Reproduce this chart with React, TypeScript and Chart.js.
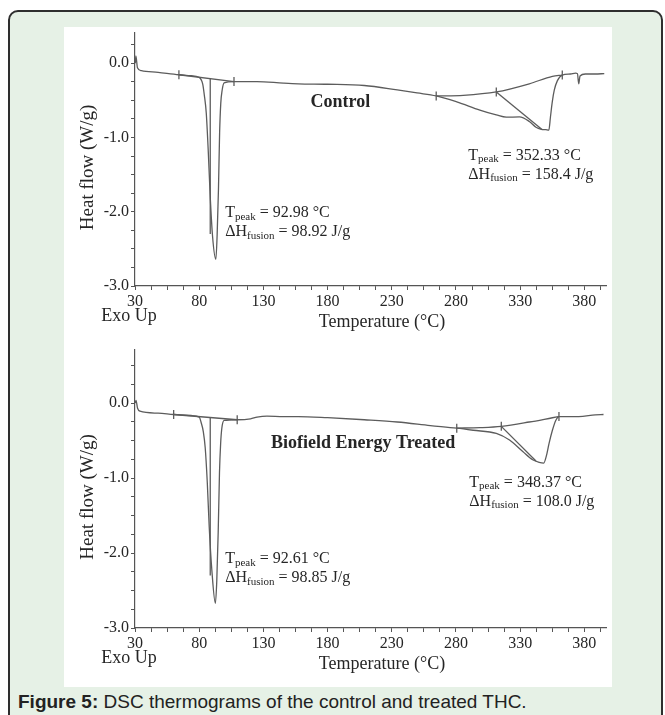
import React, { useEffect, useRef } from 'react';
import { Chart, registerables } from 'chart.js';

Chart.register(...registerables);

// ---------------- data ----------------
const xTickLabels = [30, 80, 130, 180, 230, 280, 330, 380];
const yTickLabels = [0, -1, -2, -3];

// Control sample: temperature (°C) and heat flow (W/g)
const controlT = [30.2, 30.7, 31.9, 35.0, 48.0, 64.2, 73.7, 79.7, 82.7, 84.0, 85.5, 87.1, 88.6, 90.4, 92.98, 94.0, 95.0, 95.9, 96.8, 97.9, 99.4, 107.1, 125.0, 145.6, 157.2, 180.0, 208.6, 234.3, 249.7, 264.6, 280.6, 298.6, 311.4, 319.2, 329.4, 337.1, 342.3, 346.5, 350.0, 352.33, 353.6, 355.0, 356.6, 359.0, 362.8, 369.2, 373.1, 374.6, 375.6, 376.6, 380.8, 388.5, 395.5];
const controlHF = [0.0, 0.1, -0.06, -0.1, -0.123, -0.155, -0.168, -0.189, -0.278, -0.43, -0.67, -1.2, -1.8, -2.33, -2.64, -2.3, -1.7, -0.94, -0.54, -0.36, -0.264, -0.247, -0.247, -0.268, -0.277, -0.283, -0.3, -0.36, -0.4, -0.44, -0.52, -0.63, -0.696, -0.727, -0.723, -0.784, -0.863, -0.89, -0.895, -0.9, -0.72, -0.52, -0.36, -0.234, -0.159, -0.145, -0.132, -0.14, -0.278, -0.172, -0.145, -0.145, -0.139];
const controlBaseLowT = [64.2, 107.1];
const controlBaseLowHF = [-0.155, -0.247];
const controlBaseHighT = [264.6, 285.7, 311.4, 337.1, 355.1, 362.8];
const controlBaseHighHF = [-0.44, -0.432, -0.387, -0.277, -0.176, -0.159];
const controlDropT = [88.6, 88.6];
const controlDropHF = [-0.205, -2.3];
const controlDiagT = [311.4, 347.0];
const controlDiagHF = [-0.387, -0.893];
const controlMarkT = [64.2, 107.1, 264.6, 311.4, 362.8];
const controlMarkHF = [-0.155, -0.247, -0.44, -0.387, -0.159];

// Biofield Energy Treated sample
const treatedT = [30.2, 30.8, 32.0, 33.9, 48.0, 60.1, 73.7, 80.1, 81.4, 83.2, 84.7, 86.3, 87.8, 89.9, 92.61, 93.7, 94.8, 95.8, 96.7, 97.6, 99.4, 109.6, 120.0, 125.1, 132.8, 145.6, 157.2, 180.0, 208.6, 234.3, 260.0, 280.6, 293.5, 311.4, 321.7, 332.0, 339.7, 344.8, 348.37, 350.3, 352.5, 355.1, 357.7, 360.2, 375.6, 388.5, 394.9];
const treatedHF = [0.0, 0.035, -0.07, -0.109, -0.135, -0.153, -0.166, -0.187, -0.253, -0.38, -0.6, -1.06, -1.65, -2.24, -2.67, -2.37, -1.72, -0.93, -0.54, -0.34, -0.232, -0.223, -0.21, -0.187, -0.174, -0.18, -0.18, -0.195, -0.223, -0.253, -0.3, -0.335, -0.363, -0.406, -0.494, -0.646, -0.756, -0.79, -0.8, -0.712, -0.537, -0.363, -0.232, -0.18, -0.18, -0.157, -0.153];
const treatedBaseLowT = [60.1, 109.6];
const treatedBaseLowHF = [-0.153, -0.223];
const treatedBaseHighT = [280.6, 298.6, 315.3, 337.1, 355.1, 360.2];
const treatedBaseHighHF = [-0.335, -0.328, -0.311, -0.253, -0.196, -0.18];
const treatedDropT = [88.6, 88.6];
const treatedDropHF = [-0.19, -2.3];
const treatedDiagT = [315.3, 342.3];
const treatedDiagHF = [-0.311, -0.773];
const treatedMarkT = [60.1, 109.6, 280.6, 315.3, 360.2];
const treatedMarkHF = [-0.153, -0.223, -0.335, -0.311, -0.18];

// ---------------- styles ----------------
const SERIF = '"Liberation Serif", "Times New Roman", Times, serif';
const SANS = '"Liberation Sans", Arial, Helvetica, sans-serif';
const TEXT = '#262626';
const CURVE = '#5c5c5c';
const AXIS = '#555555';

type Note = { T: number; HF: number; lines: [string, string, string][] };
type Spec = {
  top: number;
  height: number;
  yMax: number;
  title: string;
  titleT: number;
  titleHF: number;
  notes: Note[];
  lines: { T: number[]; HF: number[]; smooth?: boolean }[];
  marksT: number[];
  marksHF: number[];
};

const controlSpec: Spec = {
  top: 27,
  height: 309,
  yMax: 0.41,
  title: 'Control',
  titleT: 190,
  titleHF: -0.53,
  notes: [
    { T: 100.2, HF: -2.02, lines: [['T', 'peak', ' = 92.98 °C'], ['ΔH', 'fusion', ' = 98.92 J/g']] },
    { T: 289.6, HF: -1.24, lines: [['T', 'peak', ' = 352.33 °C'], ['ΔH', 'fusion', ' = 158.4 J/g']] },
  ],
  lines: [
    { T: controlT, HF: controlHF, smooth: true },
    { T: controlBaseLowT, HF: controlBaseLowHF },
    { T: controlBaseHighT, HF: controlBaseHighHF, smooth: true },
    { T: controlDropT, HF: controlDropHF },
    { T: controlDiagT, HF: controlDiagHF },
  ],
  marksT: controlMarkT,
  marksHF: controlMarkHF,
};

const treatedSpec: Spec = {
  top: 344,
  height: 334,
  yMax: 0.71,
  title: 'Biofield Energy Treated',
  titleT: 207.7,
  titleHF: -0.537,
  notes: [
    { T: 100.2, HF: -2.08, lines: [['T', 'peak', ' = 92.61 °C'], ['ΔH', 'fusion', ' = 98.85 J/g']] },
    { T: 290.4, HF: -1.06, lines: [['T', 'peak', ' = 348.37 °C'], ['ΔH', 'fusion', ' = 108.0 J/g']] },
  ],
  lines: [
    { T: treatedT, HF: treatedHF, smooth: true },
    { T: treatedBaseLowT, HF: treatedBaseLowHF },
    { T: treatedBaseHighT, HF: treatedBaseHighHF, smooth: true },
    { T: treatedDropT, HF: treatedDropHF },
    { T: treatedDiagT, HF: treatedDiagHF },
  ],
  marksT: treatedMarkT,
  marksHF: treatedMarkHF,
};

const X_MIN = 30;
const X_MAX = 397;

function drawSubLine(ctx: CanvasRenderingContext2D, x: number, y: number, parts: [string, string, string]) {
  const [base, sub, rest] = parts;
  ctx.font = `16px ${SERIF}`;
  ctx.fillText(base, x, y);
  let cx = x + ctx.measureText(base).width;
  ctx.font = `11px ${SERIF}`;
  ctx.fillText(sub, cx, y + 4);
  cx += ctx.measureText(sub).width;
  ctx.font = `16px ${SERIF}`;
  ctx.fillText(rest, cx, y);
}

function makeNotesPlugin(spec: Spec) {
  return {
    id: 'dscNotes',
    afterDraw(chart: any) {
      const { ctx, scales, chartArea } = chart;
      const xs = scales.x;
      const ys = scales.y;
      ctx.save();
      ctx.fillStyle = TEXT;
      ctx.textBaseline = 'middle';
      ctx.textAlign = 'left';
      for (const note of spec.notes) {
        const px = xs.getPixelForValue(note.T);
        const py = ys.getPixelForValue(note.HF);
        note.lines.forEach((ln, i) => drawSubLine(ctx, px, py + i * 19, ln));
      }
      ctx.font = `bold 18px ${SERIF}`;
      ctx.textAlign = 'center';
      ctx.fillText(spec.title, xs.getPixelForValue(spec.titleT), ys.getPixelForValue(spec.titleHF));
      // axis titles and Exo Up
      ctx.font = `18px ${SERIF}`;
      ctx.fillText('Exo Up', chartArea.left - 6, chartArea.bottom + 30);
      ctx.fillText('Temperature (°C)', chartArea.left + 247, chartArea.bottom + 36);
      ctx.save();
      ctx.font = `19px ${SERIF}`;
      ctx.translate(chartArea.left - 47, (chartArea.top + chartArea.bottom) / 2 + 8);
      ctx.rotate(-Math.PI / 2);
      ctx.fillText('Heat flow (W/g)', 0, 0);
      ctx.restore();
      ctx.restore();
    },
  };
}

function buildTicks(min: number, max: number, step: number) {
  const out: number[] = [];
  for (let v = min; v <= max + 1e-9; v += step) out.push(Math.round(v * 1000) / 1000);
  return out;
}

function zeroPad(s: any) {
  s.paddingTop = 0;
  s.paddingBottom = 0;
  s.paddingLeft = 0;
  s.paddingRight = 0;
}

function DscChart({ spec }: { spec: Spec }) {
  const ref = useRef<HTMLCanvasElement>(null);
  useEffect(() => {
    const canvas = ref.current;
    if (!canvas) return;
    const xVals = buildTicks(X_MIN, X_MAX, 12.5);
    const yVals = buildTicks(-3, spec.yMax, 0.25);
    const datasets: any[] = spec.lines.map((ln) => ({
      data: ln.T.map((t, i) => ({ x: t, y: ln.HF[i] })),
      borderColor: CURVE,
      borderWidth: 1.3,
      pointRadius: 0,
      fill: false,
      cubicInterpolationMode: ln.smooth ? 'monotone' : 'default',
      tension: 0,
    }));
    datasets.push({
      data: spec.marksT.map((t, i) => ({ x: t, y: spec.marksHF[i] })),
      showLine: false,
      pointStyle: 'line',
      rotation: 90,
      pointRadius: 4.5,
      borderColor: CURVE,
      borderWidth: 1.3,
      backgroundColor: CURVE,
    });
    const chart = new Chart(canvas, {
      type: 'line',
      data: { datasets },
      plugins: [makeNotesPlugin(spec) as any],
      options: {
        animation: false,
        responsive: false,
        maintainAspectRatio: false,
        devicePixelRatio: 1,
        events: [],
        layout: { padding: { top: 1, right: 1, left: 0, bottom: 0 } },
        plugins: { legend: { display: false }, tooltip: { enabled: false } },
        scales: {
          x: {
            type: 'linear',
            min: X_MIN,
            max: X_MAX,
            afterBuildTicks: (s: any) => {
              s.ticks = xVals.map((value) => ({ value }));
            },
            afterFit: (s: any) => {
              s.height = 50;
              zeroPad(s);
            },
            ticks: {
              autoSkip: false,
              maxRotation: 0,
              padding: 2,
              color: TEXT,
              font: { family: SERIF, size: 16 },
              callback: (v: any) => (xTickLabels.includes(Number(v)) ? String(v) : ''),
            },
            grid: { drawOnChartArea: false, drawTicks: true, tickLength: 4, color: AXIS },
            border: { display: true, color: AXIS, width: 1.2 },
            title: { display: false },
          },
          y: {
            type: 'linear',
            min: -3,
            max: spec.yMax,
            afterBuildTicks: (s: any) => {
              s.ticks = yVals.map((value) => ({ value }));
            },
            afterFit: (s: any) => {
              s.width = 71;
              zeroPad(s);
            },
            ticks: {
              autoSkip: false,
              padding: 2,
              color: TEXT,
              font: { family: SERIF, size: 16 },
              callback: (v: any) => (yTickLabels.includes(Number(v)) ? Number(v).toFixed(1) : ''),
            },
            grid: { drawOnChartArea: false, drawTicks: true, tickLength: 4, color: AXIS },
            border: { display: true, color: AXIS, width: 1.2 },
            title: { display: false },
          },
        },
      } as any,
    });
    return () => chart.destroy();
  }, [spec]);
  return (
    <canvas
      ref={ref}
      width={548}
      height={spec.height}
      style={{ position: 'absolute', left: 64, top: spec.top, width: 548, height: spec.height }}
    />
  );
}

export default function App() {
  return (
    <div
      style={{
        position: 'absolute',
        left: 0,
        top: 0,
        width: 665,
        height: 715,
        overflow: 'hidden',
        background: '#ffffff',
      }}
    >
      <div
        style={{
          position: 'absolute',
          left: 8,
          top: 10,
          width: 655,
          height: 740,
          boxSizing: 'border-box',
          background: '#e6f1e6',
          border: '2px solid #2e2e2e',
          borderRadius: 10,
        }}
      />
      <div style={{ position: 'absolute', left: 64, top: 27, width: 548, height: 660, background: '#ffffff' }} />
      <DscChart spec={controlSpec} />
      <DscChart spec={treatedSpec} />
      <div
        style={{
          position: 'absolute',
          left: 18,
          top: 692,
          font: `19px ${SANS}`,
          color: '#222',
          whiteSpace: 'nowrap',
          lineHeight: '20px',
        }}
      >
        <b>Figure 5:</b> DSC thermograms of the control and treated THC.
      </div>
    </div>
  );
}
